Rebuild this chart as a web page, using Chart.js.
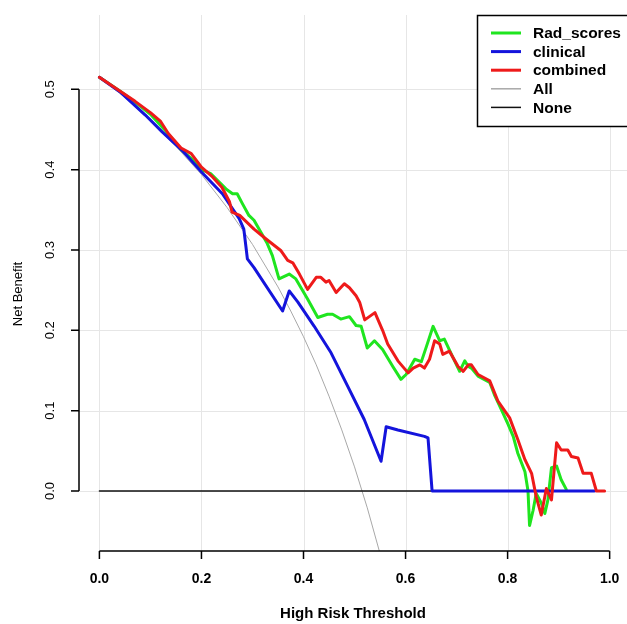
<!DOCTYPE html>
<html lang="en">
<head>
  <meta charset="UTF-8" />
  <title>Decision curves</title>
  <script src="https://cdn.jsdelivr.net/npm/chart.js"></script>
  <style>
    body {
      margin: 0;
      background: #ffffff;
    }
    #wrap {
      width: 627px;
      height: 624px;
    }
  </style>
</head>
<body>
  <div id="wrap">
    <canvas id="dca" width="627" height="624"></canvas>
  </div>

  <script>
    // threshold / net benefit pairs for each curve
    const radScores = [
      [0, 0.515], [0.04, 0.498], [0.07, 0.484], [0.10, 0.469], [0.13, 0.448], [0.16, 0.425],
      [0.18, 0.414], [0.20, 0.400], [0.218, 0.395], [0.248, 0.376], [0.261, 0.370], [0.270, 0.370],
      [0.280, 0.358], [0.293, 0.343], [0.303, 0.337], [0.329, 0.308], [0.339, 0.293], [0.352, 0.264],
      [0.372, 0.270], [0.385, 0.264], [0.408, 0.239], [0.428, 0.216], [0.447, 0.220], [0.457, 0.220],
      [0.473, 0.214], [0.490, 0.217], [0.503, 0.206], [0.513, 0.205], [0.525, 0.178], [0.539, 0.187],
      [0.555, 0.176], [0.575, 0.155], [0.591, 0.139], [0.601, 0.145], [0.618, 0.164], [0.631, 0.161],
      [0.641, 0.180], [0.654, 0.205], [0.667, 0.187], [0.676, 0.189], [0.690, 0.170], [0.706, 0.149],
      [0.716, 0.162], [0.723, 0.155], [0.729, 0.153], [0.742, 0.143], [0.765, 0.135], [0.774, 0.120],
      [0.788, 0.101], [0.801, 0.083], [0.811, 0.068], [0.820, 0.047], [0.834, 0.024], [0.840, 0.000],
      [0.843, -0.043], [0.850, -0.024], [0.856, -0.003], [0.866, -0.015], [0.873, -0.028], [0.879, -0.011],
      [0.886, 0.029], [0.896, 0.031], [0.905, 0.014], [0.915, 0.002]
    ];
    const clinical = [
      [0, 0.515], [0.04, 0.497], [0.09, 0.468], [0.123, 0.447], [0.162, 0.424], [0.20, 0.397],
      [0.241, 0.370], [0.274, 0.339], [0.283, 0.326], [0.287, 0.305], [0.290, 0.289], [0.303, 0.278],
      [0.359, 0.224], [0.372, 0.249], [0.389, 0.235], [0.421, 0.205], [0.454, 0.172], [0.487, 0.130],
      [0.519, 0.089], [0.552, 0.037], [0.562, 0.080], [0.585, 0.076], [0.637, 0.068], [0.644, 0.066],
      [0.652, 0], [0.97, 0]
    ];
    const combined = [
      [0, 0.515], [0.04, 0.498], [0.07, 0.485], [0.10, 0.471], [0.12, 0.460], [0.135, 0.445],
      [0.16, 0.427], [0.18, 0.420], [0.20, 0.403], [0.22, 0.392], [0.24, 0.378], [0.255, 0.360],
      [0.26, 0.347], [0.275, 0.343], [0.303, 0.326], [0.326, 0.314], [0.336, 0.309], [0.356, 0.299],
      [0.369, 0.287], [0.379, 0.284], [0.392, 0.270], [0.408, 0.251], [0.425, 0.266], [0.434, 0.266],
      [0.444, 0.260], [0.45, 0.262], [0.464, 0.247], [0.48, 0.258], [0.49, 0.253], [0.503, 0.243],
      [0.51, 0.235], [0.52, 0.213], [0.54, 0.222], [0.555, 0.200], [0.565, 0.183], [0.585, 0.162],
      [0.605, 0.147], [0.615, 0.153], [0.628, 0.157], [0.637, 0.153], [0.647, 0.164], [0.657, 0.187],
      [0.667, 0.183], [0.673, 0.170], [0.686, 0.174], [0.703, 0.155], [0.713, 0.149], [0.723, 0.157],
      [0.729, 0.157], [0.742, 0.145], [0.765, 0.137], [0.781, 0.112], [0.804, 0.091], [0.82, 0.064],
      [0.834, 0.039], [0.847, 0.022], [0.856, -0.007], [0.866, -0.030], [0.876, 0.003], [0.886, -0.011],
      [0.896, 0.060], [0.905, 0.051], [0.918, 0.051], [0.925, 0.043], [0.938, 0.041], [0.948, 0.022],
      [0.964, 0.022], [0.974, 0], [0.99, 0]
    ];
    const treatAll = [
      [0, 0.515], [0.05, 0.490], [0.10, 0.461], [0.15, 0.429], [0.20, 0.394], [0.25, 0.353],
      [0.30, 0.307], [0.35, 0.254], [0.375, 0.224], [0.40, 0.192], [0.425, 0.157], [0.45, 0.118],
      [0.475, 0.076], [0.50, 0.030], [0.525, -0.021], [0.55, -0.078]
    ];
    const treatNone = [[0, 0], [0.99, 0]];

    const xTicks = [0, 0.2, 0.4, 0.6, 0.8, 1.0];
    const yTicks = [0, 0.1, 0.2, 0.3, 0.4, 0.5];

    const toPoints = arr => arr.map(p => ({ x: p[0], y: p[1] }));

    function curve(label, arr, color, width, order) {
      return {
        label: label,
        data: toPoints(arr),
        borderColor: color,
        borderWidth: width,
        pointRadius: 0,
        fill: false,
        tension: 0,
        borderJoinStyle: 'round',
        borderCapStyle: 'round',
        order: order
      };
    }

    const font = '"Liberation Sans", Arial, sans-serif';

    // grid, R-style axes, titles and boxed legend
    const frame = {
      id: 'frame',
      beforeDatasetsDraw(chart) {
        const { ctx, chartArea: a, scales: { x, y } } = chart;
        ctx.save();
        ctx.strokeStyle = '#e6e6e6';
        ctx.lineWidth = 1;
        xTicks.forEach(t => {
          const px = Math.round(x.getPixelForValue(t)) + 0.5;
          ctx.beginPath(); ctx.moveTo(px, a.top); ctx.lineTo(px, a.bottom); ctx.stroke();
        });
        yTicks.forEach(t => {
          const py = Math.round(y.getPixelForValue(t)) + 0.5;
          ctx.beginPath(); ctx.moveTo(a.left, py); ctx.lineTo(a.right, py); ctx.stroke();
        });
        ctx.restore();
      },
      afterDraw(chart) {
        const { ctx, chartArea: a, scales: { x, y } } = chart;
        ctx.save();
        ctx.strokeStyle = '#000';
        ctx.fillStyle = '#000';
        ctx.lineWidth = 1.5;

        // x axis
        const xb = a.bottom;
        ctx.beginPath();
        ctx.moveTo(x.getPixelForValue(xTicks[0]), xb);
        ctx.lineTo(x.getPixelForValue(xTicks[xTicks.length - 1]), xb);
        xTicks.forEach(t => {
          const px = x.getPixelForValue(t);
          ctx.moveTo(px, xb); ctx.lineTo(px, xb + 8);
        });
        ctx.stroke();
        ctx.font = 'bold 14px ' + font;
        ctx.textAlign = 'center';
        ctx.textBaseline = 'middle';
        xTicks.forEach(t => ctx.fillText(t.toFixed(1), x.getPixelForValue(t), xb + 28));

        // y axis
        const yl = a.left;
        ctx.beginPath();
        ctx.moveTo(yl, y.getPixelForValue(yTicks[0]));
        ctx.lineTo(yl, y.getPixelForValue(yTicks[yTicks.length - 1]));
        yTicks.forEach(t => {
          const py = y.getPixelForValue(t);
          ctx.moveTo(yl, py); ctx.lineTo(yl - 8, py);
        });
        ctx.stroke();
        ctx.font = '13px ' + font;
        yTicks.forEach(t => {
          ctx.save();
          ctx.translate(50, y.getPixelForValue(t));
          ctx.rotate(-Math.PI / 2);
          ctx.fillText(t.toFixed(1), 0, 0);
          ctx.restore();
        });

        // axis titles
        ctx.font = 'bold 15px ' + font;
        ctx.fillText('High Risk Threshold', (a.left + a.right) / 2, 614);
        ctx.save();
        ctx.font = '13px ' + font;
        ctx.translate(18, 294);
        ctx.rotate(-Math.PI / 2);
        ctx.fillText('Net Benefit', 0, 0);
        ctx.restore();

        // legend box
        const lx = 477, ly = 15, lb = 126;
        ctx.fillStyle = '#fff';
        ctx.fillRect(lx, ly, a.right + 5 - lx, lb - ly);
        ctx.lineWidth = 1.5;
        ctx.strokeRect(lx + 0.5, ly + 0.5, a.right + 5 - lx, lb - ly);
        ctx.font = 'bold 15.5px ' + font;
        ctx.textAlign = 'left';
        chart.data.datasets.forEach((ds, i) => {
          const ry = 33 + i * 18.6;
          ctx.strokeStyle = ds.borderColor;
          ctx.lineWidth = ds.borderWidth < 2 ? 1.5 : 3;
          ctx.beginPath(); ctx.moveTo(491, ry); ctx.lineTo(521, ry); ctx.stroke();
          ctx.fillStyle = '#000';
          ctx.fillText(ds.label, 533, ry + 1);
        });
        ctx.restore();
      }
    };

    new Chart(document.getElementById('dca'), {
      type: 'line',
      data: {
        datasets: [
          curve('Rad_scores', radScores, '#1fe51f', 3, 2),
          curve('clinical', clinical, '#1414dc', 3, 1),
          curve('combined', combined, '#ee1a1a', 3, 0),
          curve('All', treatAll, '#a8a8a8', 1, 4),
          curve('None', treatNone, '#111111', 1.5, 3)
        ]
      },
      options: {
        responsive: false,
        animation: false,
        layout: { padding: { left: 79, top: 15, right: 0, bottom: 73 } },
        scales: {
          x: { type: 'linear', min: -0.04, max: 1.034, display: false },
          y: { type: 'linear', min: -0.0747, max: 0.5925, display: false }
        },
        plugins: {
          legend: { display: false },
          tooltip: { enabled: false }
        }
      },
      plugins: [frame]
    });
  </script>
</body>
</html>
